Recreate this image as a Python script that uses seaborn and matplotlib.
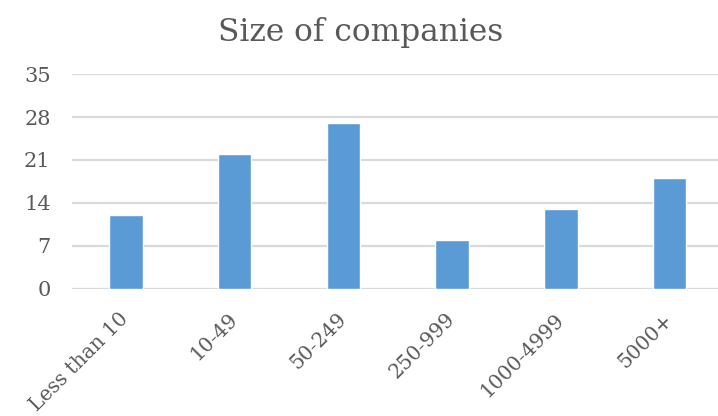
import matplotlib
matplotlib.use("Agg")
import matplotlib.pyplot as plt
import seaborn as sns
import pandas as pd

categories = ["Less than 10", "10-49", "50-249", "250-999", "1000-4999", "5000+"]
counts = [12, 22, 27, 8, 13, 18]
y_ticks = [0, 7, 14, 21, 28, 35]

sns.set_theme(style="white")
plt.rcParams["font.family"] = ["DejaVu Serif"]

text_color = "#595959"
grid_color = "#D9D9D9"
bar_color = "#5B9BD5"

df = pd.DataFrame({"size": categories, "count": counts})

fig = plt.figure(figsize=(7.18, 4.16), dpi=100)
ax = fig.add_axes([71.5 / 718, 127.5 / 416, (724 - 71.5) / 718, (341.7 - 127.5) / 416])

sns.barplot(data=df, x="size", y="count", color=bar_color, width=0.31,
            saturation=1, ax=ax, zorder=3)

ax.set_ylim(0, 35)
ax.set_yticks(y_ticks)
ax.set_xlim(-0.5, len(categories) - 0.5)
ax.set_xlabel("")
ax.set_ylabel("")

for y in y_ticks:
    ax.axhline(y, color=grid_color, linewidth=1.6, zorder=1)

for side in ["top", "right", "left", "bottom"]:
    ax.spines[side].set_visible(False)

ax.tick_params(axis="y", length=0, pad=15, labelsize=15, labelcolor=text_color)
ax.tick_params(axis="x", length=0, pad=20, labelsize=14.5, labelcolor=text_color)
for lbl in ax.get_xticklabels():
    lbl.set_rotation(45)
    lbl.set_ha("right")
    lbl.set_va("center")
    lbl.set_rotation_mode("anchor")

fig.text(361 / 718, 1 - 32 / 416, "Size of companies", ha="center", va="center",
         fontsize=22.5, color=text_color)

fig.savefig("out.png", dpi=100)
